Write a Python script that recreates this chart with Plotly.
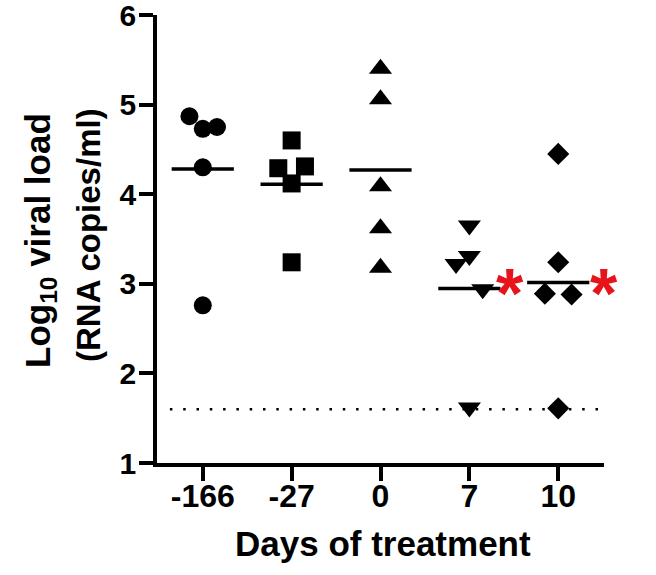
import numpy as np
import plotly.graph_objects as go

# ---- data ----
days = ["-166", "-27", "0", "7", "10"]
vl_m166 = [4.87, 4.73, 4.75, 4.30, 2.76]
vl_m27 = [4.60, 4.29, 4.31, 4.12, 3.24]
vl_d0 = [5.40, 5.06, 4.09, 3.62, 3.18]
vl_d7 = [3.65, 3.31, 3.22, 2.94, 1.62]
vl_d10 = [4.45, 3.24, 2.89, 2.88, 1.61]
# horizontal scatter (jitter) of overlapping points, in category units
jit_m166 = [-0.15, 0.0, 0.16, 0.0, 0.0]
jit_m27 = [0.0, -0.15, 0.15, 0.0, 0.0]
jit_d0 = [0.0, 0.0, 0.0, 0.0, 0.0]
jit_d7 = [0.0, 0.0, -0.15, 0.15, 0.0]
jit_d10 = [0.0, 0.0, -0.15, 0.15, 0.0]
detection_limit = 1.60
star_groups = [3, 4]
star_values = [3.01, 3.01]
y_ticks = [1, 2, 3, 4, 5, 6]

groups = [vl_m166, vl_m27, vl_d0, vl_d7, vl_d10]
jitters = [jit_m166, jit_m27, jit_d0, jit_d7, jit_d10]
symbols = ["circle", "square", "triangle-up", "triangle-down", "diamond"]
sizes = [18, 18, 20, 20, 17]

FONT = "Liberation Sans, Arial, sans-serif"
X_RANGE = [-0.515, 4.515]

fig = go.Figure()

# detection limit dotted line
fig.add_trace(go.Scatter(
    x=[-0.37, 4.45], y=[detection_limit, detection_limit], mode="lines",
    line=dict(color="black", width=2.5, dash="2.5px,10.8px"),
    hoverinfo="skip", showlegend=False))

for i, (vals, jit, sym, sz) in enumerate(zip(groups, jitters, symbols, sizes)):
    xs = [i + d for d in jit]
    fig.add_trace(go.Scatter(
        x=xs, y=vals, mode="markers",
        marker=dict(symbol=sym, size=sz, color="black", line=dict(width=0)),
        showlegend=False))
    m = float(np.mean(vals))
    fig.add_trace(go.Scatter(
        x=[i - 0.35, i + 0.35], y=[m, m], mode="lines",
        line=dict(color="black", width=3.5), showlegend=False))

annotations = []
star_dx = [0.46, 0.52]
for g, v, dx in zip(star_groups, star_values, star_dx):
    annotations.append(dict(
        x=(g + dx - X_RANGE[0]) / (X_RANGE[1] - X_RANGE[0]), y=v,
        xref="paper", yref="y", text="*", showarrow=False,
        font=dict(family=FONT, size=70, color="#e8141b", weight="bold"),
        xanchor="center", yanchor="middle", yshift=-11))

# axis titles
annotations.append(dict(
    x=(383 - 157) / 447, y=(463 - 543) / 448, xref="paper", yref="paper",
    text="Days of treatment", showarrow=False,
    font=dict(family=FONT, size=35, color="black", weight="bold"),
    xanchor="center", yanchor="middle"))
annotations.append(dict(
    x=(40 - 157) / 447, y=(463 - 241) / 448, xref="paper", yref="paper",
    text="Log<sub>10</sub> viral load", showarrow=False, textangle=-90,
    font=dict(family=FONT, size=35, color="black", weight="bold"),
    xanchor="center", yanchor="middle"))
annotations.append(dict(
    x=(88 - 157) / 447, y=(463 - 235) / 448, xref="paper", yref="paper",
    text="(RNA copies/ml)", showarrow=False, textangle=-90,
    font=dict(family=FONT, size=33, color="black", weight="bold"),
    xanchor="center", yanchor="middle"))

fig.update_layout(
    width=656, height=575,
    margin=dict(l=157, r=52, t=15, b=112, autoexpand=False),
    paper_bgcolor="white", plot_bgcolor="white",
    showlegend=False,
    annotations=annotations,
    xaxis=dict(
        range=X_RANGE, tickmode="array", automargin=False,
        tickvals=list(range(len(days))), ticktext=days,
        showline=True, linecolor="black", linewidth=3.5,
        ticks="outside", ticklen=14, tickwidth=3.5, tickcolor="black",
        showgrid=False, zeroline=False, ticklabelstandoff=-12,
        tickfont=dict(family=FONT, size=32, color="black", weight="bold")),
    yaxis=dict(
        range=[1, 6], tickmode="array", tickvals=y_ticks, automargin=False,
        showline=True, linecolor="black", linewidth=3.5,
        ticks="outside", ticklen=14, tickwidth=3.5, tickcolor="black",
        showgrid=False, zeroline=False, ticklabeloverflow="allow",
        ticklabelstandoff=-3,
        tickfont=dict(family=FONT, size=30, color="black", weight="bold")),
)

# remove the browser's default 8 px body margin so the figure fills the window
fig.write_html("out.html", config={"displayModeBar": False},
               post_script="document.body.style.margin='0px';")
